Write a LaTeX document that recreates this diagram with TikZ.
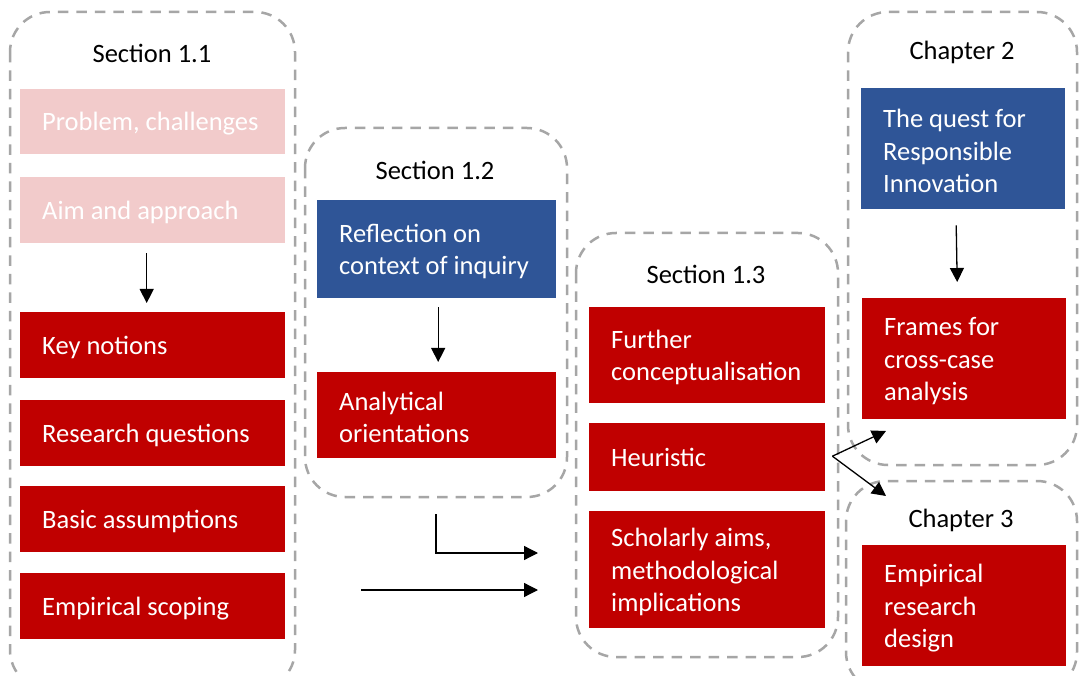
\documentclass[tikz,border=0pt]{standalone}
\usepackage{fontspec}
\setmainfont{Carlito}
\usetikzlibrary{arrows.meta}
\definecolor{boxred}{HTML}{C00000}
\definecolor{boxblue}{HTML}{2F5597}
\definecolor{boxpink}{HTML}{F2CBCB}
\definecolor{framegray}{HTML}{A6A6A6}
\begin{document}
\begin{tikzpicture}[x=1pt,y=-1pt,
  group/.style={draw=framegray, line width=2.5pt, dash pattern=on 10.5pt off 8pt, rounded corners=40pt},
  heading/.style={font=\fontsize{26.5}{32.3}\selectfont, text=black, inner sep=0pt},
  card/.style={anchor=north west, inner xsep=22pt, inner ysep=0pt, align=flush left,
    text=white, font=\fontsize{26.5}{32.3}\selectfont, minimum height=#1,
    execute at begin node={\spaceskip=0pt\xspaceskip=0pt\hyphenpenalty=10000\relax},
    execute at end node={\endgraf\kern-5pt}},
  redcard/.style={card=#1, fill=boxred},
  bluecard/.style={card=#1, fill=boxblue},
  pinkcard/.style={card=#1, fill=boxpink},
  colA/.style={text width=221pt},
  colB/.style={text width=195pt},
  colC/.style={text width=192pt},
  colD/.style={text width=160pt},
  arr/.style={draw=black, line width=1.3pt, -{Triangle[length=14pt,width=14pt]}}
]
\clip (0,0) rectangle (1085,676);
\fill[white] (0,0) rectangle (1085,676);

% dashed group outlines
\draw[group] (10,12) rectangle (295,690);
\draw[group] (305,128) rectangle (567,497);
\draw[group] (576,233) rectangle (838,657);
\draw[group] (848,12) rectangle (1077,465);
\draw[group] (846,481) rectangle (1077,692);

% Section 1.1
\node[heading] (t11) at (152,53) {Section 1.1};
\node[pinkcard=65pt, colA] (prob) at (20,89) {Problem, challenges};
\node[pinkcard=66pt, colA] (aim) at (20,177) {Aim and approach};
\node[redcard=66pt, colA] (key) at (20,312) {Key notions};
\node[redcard=66pt, colA] (rq) at (20,400) {Research questions};
\node[redcard=66pt, colA] (basic) at (20,486) {Basic assumptions};
\node[redcard=66pt, colA] (scope) at (20,573) {Empirical scoping};
\draw[arr] ([xshift=-6pt,yshift=-10pt]aim.south) -- ([xshift=-6pt,yshift=9pt]key.north);

% Section 1.2
\node[heading] (t12) at (435,170) {Section 1.2};
\node[bluecard=98pt, colB] (refl) at (317,200) {Reflection on\\context of inquiry};
\node[redcard=86pt, colB] (anal) at (317,372) {Analytical\\orientations};
\draw[arr] ([xshift=1.5pt,yshift=-9pt]refl.south) -- ([xshift=1.5pt,yshift=10pt]anal.north);

% connectors into Section 1.3
\coordinate (e1) at (436,514);
\coordinate (e2) at (538,553);
\coordinate (s1) at (361,590);
\coordinate (s2) at (538,590);
\draw[arr] (e1) |- (e2);
\draw[arr] (s1) -- (s2);

% Section 1.3
\node[heading] (t13) at (706,274) {Section 1.3};
\node[redcard=96pt, colC] (conc) at (589,307) {Further\\conceptualisation};
\node[redcard=68pt, colC] (heur) at (589,423) {Heuristic};
\node[redcard=117pt, colC] (aims) at (589,511) {Scholarly aims,\\methodological\\implications};

% Chapter 2
\node[heading] (t2) at (962,52) {Chapter 2};
\node[bluecard=121pt, colD] (quest) at (861,88) {The quest for\\Responsible\\Innovation};
\node[redcard=121pt, colD] (frames) at (862,298) {Frames for\\cross-case\\analysis};
\draw[arr] ([xshift=-7pt,yshift=-16pt]quest.south) -- ([xshift=-7pt,yshift=16pt]frames.north);

% Chapter 3
\node[heading] (t3) at (961,520) {Chapter 3};
\node[redcard=121pt, colD] (design) at (862,545) {Empirical\\research\\design};

% branching from the heuristic
\coordinate (h0) at ([xshift=7pt,yshift=1pt]heur.east);
\coordinate (h1) at (886,431);
\coordinate (h2) at (886,496);
\draw[arr] (h0) -- (h1);
\draw[arr] (h0) -- (h2);
\end{tikzpicture}
\end{document}
